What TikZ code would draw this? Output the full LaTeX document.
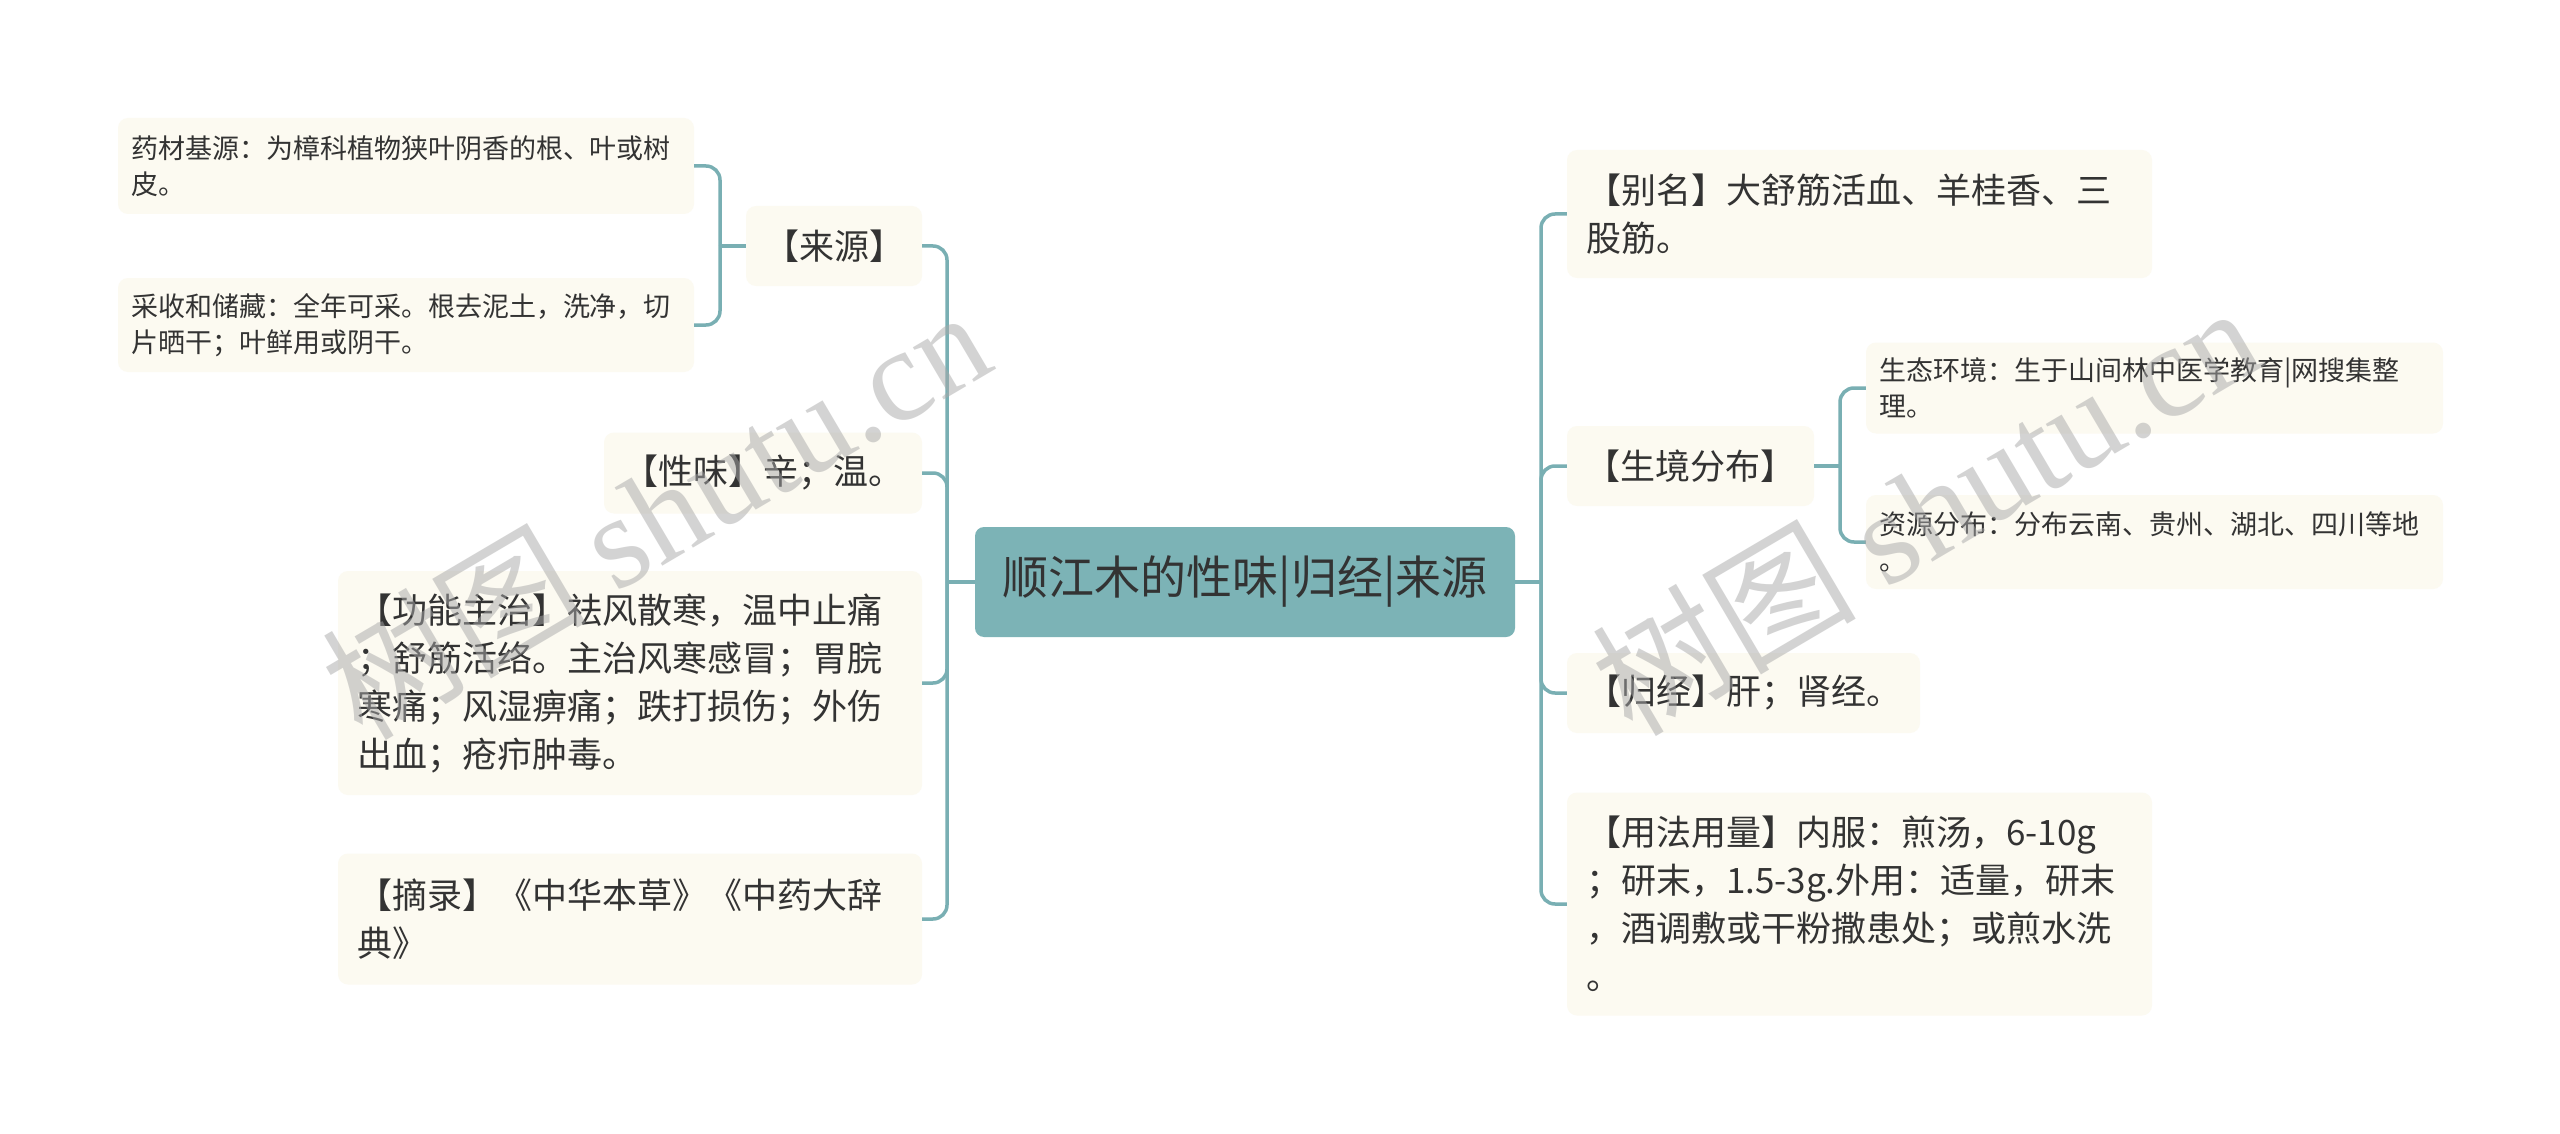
\documentclass[tikz,border=0pt]{standalone}
\usepackage{fontspec}
\setmainfont{Noto Sans CJK SC}
\newfontfamily\wmserif{Liberation Serif}
\definecolor{centc}{HTML}{7CB3B6}
\definecolor{linec}{HTML}{79AFB3}
\definecolor{boxc}{HTML}{FCFAF1}
\definecolor{txt}{HTML}{333333}
\definecolor{wmc}{HTML}{A8A8A8}
\tikzset{
  box/.style={fill=boxc, rounded corners=10pt, text=txt, align=left, anchor=center, inner ysep=0pt},
  lvone/.style={box, inner xsep=19pt, font=\fontsize{35}{48}\selectfont},
  lvonec/.style={box, align=center, inner xsep=0pt, font=\fontsize{35}{48}\selectfont},
  leaf/.style={box, inner xsep=13pt, font=\fontsize{27}{36}\selectfont},
  sz/.style 2 args={text width=#1, minimum height=#2},
  conn/.style={draw=linec, line width=3.5pt, rounded corners=14pt},
  wmark/.style={text=wmc, opacity=0.5, rotate=30.5, anchor=center, inner sep=0pt}
}
\begin{document}
\begin{tikzpicture}[x=1pt,y=-1pt]
\useasboundingbox[fill=white] (0,0) rectangle (2560,1134);

% centre
\node[fill=centc, rounded corners=9pt, text=txt, minimum width=540pt, minimum height=110pt, inner sep=0pt, font=\fontsize{46}{56}\selectfont] (C) at (1245,582) {顺江木的性味|归经|来源};

% left side
\node[lvonec, minimum width=176pt, minimum height=80pt] (L1) at (834,246) {【来源】};
\node[leaf, sz={550pt}{96pt}] (L1a) at (406,166) {药材基源：为樟科植物狭叶阴香的根、叶或树\\皮。};
\node[leaf, sz={550pt}{94pt}] (L1b) at (406,325) {采收和储藏：全年可采。根去泥土，洗净，切\\片晒干；叶鲜用或阴干。};
\node[lvonec, minimum width=318pt, minimum height=81pt] (L2) at (763,473) {【性味】辛；温。};
\node[lvone, sz={546pt}{224pt}] (L3) at (630,683) {【功能主治】祛风散寒，温中止痛\\；舒筋活络。主治风寒感冒；胃脘\\寒痛；风湿痹痛；跌打损伤；外伤\\出血；疮疖肿毒。};
\node[lvone, sz={546pt}{131pt}] (L4) at (630,919) {【摘录】《中华本草》《中药大辞\\典》};

% right side
\node[lvone, sz={547pt}{128pt}] (R1) at (1859.5,214) {【别名】大舒筋活血、羊桂香、三\\股筋。};
\node[lvonec, minimum width=247pt, minimum height=80pt] (R2) at (1690.5,466) {【生境分布】};
\node[leaf, sz={551pt}{91pt}] (R2a) at (2154.5,388) {生态环境：生于山间林中医学教育|网搜集整\\理。};
\node[leaf, sz={551pt}{94pt}] (R2b) at (2154.5,542) {资源分布：分布云南、贵州、湖北、四川等地\\。};
\node[lvonec, minimum width=353pt, minimum height=80pt] (R3) at (1743.5,693) {【归经】肝；肾经。};
\node[lvone, sz={547pt}{223pt}] (R4) at (1859.5,904) {【用法用量】内服：煎汤，6-10g\\；研末，1.5-3g.外用：适量，研末\\，酒调敷或干粉撒患处；或煎水洗\\。};

% spines
\coordinate (ls) at (947,582);
\coordinate (rs) at (1541,582);
\coordinate (lsub) at (720,246);
\coordinate (rsub) at (1840,466);

\draw[conn] (C.west) -- (ls);
\draw[conn] (C.east) -- (rs);
\foreach \n in {L1,L2,L3,L4} \draw[conn] (ls) |- (\n.east);
\foreach \n in {R1,R2,R3,R4} \draw[conn] (rs) |- (\n.west);
\draw[conn] (L1.west) -- (lsub);
\foreach \n in {L1a,L1b} \draw[conn] (lsub) |- (\n.east);
\draw[conn] (R2.east) -- (rsub);
\foreach \n in {R2a,R2b} \draw[conn] (rsub) |- (\n.west);

% watermark
\node[wmark] (W1) at (655,512) {\fontsize{132}{140}\selectfont 树图 {\wmserif shutu.cn}};
\node[wmark] (W2) at (1925,508) {\fontsize{132}{140}\selectfont 树图 {\wmserif shutu.cn}};
\end{tikzpicture}
\end{document}
